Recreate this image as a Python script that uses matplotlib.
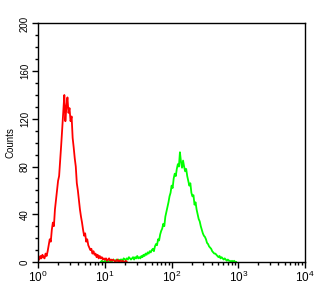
import matplotlib
matplotlib.use("Agg")
import matplotlib.pyplot as plt
import numpy as np
from matplotlib.ticker import MultipleLocator, LogLocator, NullFormatter

plt.rcParams['font.family'] = ['Liberation Sans', 'DejaVu Sans']
plt.rcParams['mathtext.fontset'] = 'custom'
plt.rcParams['mathtext.rm'] = 'Liberation Sans'
plt.rcParams['mathtext.it'] = 'Liberation Sans'

# channels: 64 per decade, 10^0 .. 10^4
per_decade = 64

# red histogram, channels 0..85
red_start = 0
red_counts = [3, 2, 5, 3, 6, 4, 3, 7, 5, 9,
              14, 19, 17, 27, 33, 30, 44, 52, 60, 68,
              72, 85, 98, 112, 126, 140, 118, 130, 138, 125,
              129, 118, 122, 104, 96, 87, 80, 66, 60, 52,
              44, 38, 33, 27, 22, 24, 17, 19, 14, 12,
              10, 11, 7, 9, 6, 7, 4, 6, 3, 5,
              3, 4, 2, 3, 2, 3, 1, 2, 3, 1,
              2, 1, 2, 1, 0, 1, 2, 0, 1, 1,
              0, 1, 0, 0, 1, 0]

# green histogram, channels 60..190
green_start = 60
green_counts = [0, 1, 0, 0, 1, 0, 1, 0, 1, 1,
                0, 1, 2, 1, 1, 2, 1, 2, 1, 2,
                2, 1, 3, 2, 2, 3, 2, 4, 3, 2,
                3, 4, 2, 4, 3, 5, 3, 4, 3, 5,
                4, 6, 5, 7, 6, 8, 7, 9, 8, 10,
                11, 9, 13, 15, 14, 19, 18, 23, 26, 28,
                32, 30, 38, 42, 46, 50, 55, 58, 64, 62,
                70, 74, 72, 78, 82, 80, 92, 84, 79, 85,
                80, 76, 78, 72, 68, 64, 66, 58, 55, 56,
                48, 50, 44, 40, 36, 34, 30, 27, 24, 22,
                21, 19, 16, 15, 13, 12, 11, 9, 8, 7,
                7, 6, 5, 4, 5, 3, 4, 3, 2, 3,
                2, 1, 2, 1, 1, 0, 1, 0, 1, 0, 0]

x_ticks = [1, 10, 100, 1000, 10000]
x_labels = [r'$10^{0}$', r'$10^{1}$', r'$10^{2}$', r'$10^{3}$', r'$10^{4}$']
y_ticks = [0, 40, 80, 120, 160, 200]

fig = plt.figure(figsize=(3.3, 2.93), dpi=100)
ax = fig.add_axes([0.116, 0.106, 0.808, 0.814])

red_x = 10 ** ((red_start + np.arange(len(red_counts))) / per_decade)
green_x = 10 ** ((green_start + np.arange(len(green_counts))) / per_decade)

ax.plot(green_x, green_counts, color='#00ff00', lw=1.3)
ax.plot(red_x, red_counts, color='#ff0000', lw=1.3)

ax.set_xscale('log')
ax.set_xlim(1, 10000)
ax.set_ylim(0, 200)
ax.set_xticks(x_ticks)
ax.set_xticklabels(x_labels, fontsize=8.5)
ax.xaxis.set_minor_locator(LogLocator(base=10, subs=np.arange(2, 10)))
ax.xaxis.set_minor_formatter(NullFormatter())
ax.set_yticks(y_ticks)
ax.set_yticklabels([str(v) for v in y_ticks], fontsize=7, rotation=90, va='center')
ax.yaxis.set_minor_locator(MultipleLocator(10))
ax.tick_params(which='major', direction='out', length=4, width=1, pad=2)
ax.tick_params(which='minor', direction='out', length=2, width=1)
ax.set_ylabel('Counts', fontsize=7, labelpad=3)
for s in ax.spines.values():
    s.set_linewidth(1)

fig.savefig('out.png', dpi=100)
